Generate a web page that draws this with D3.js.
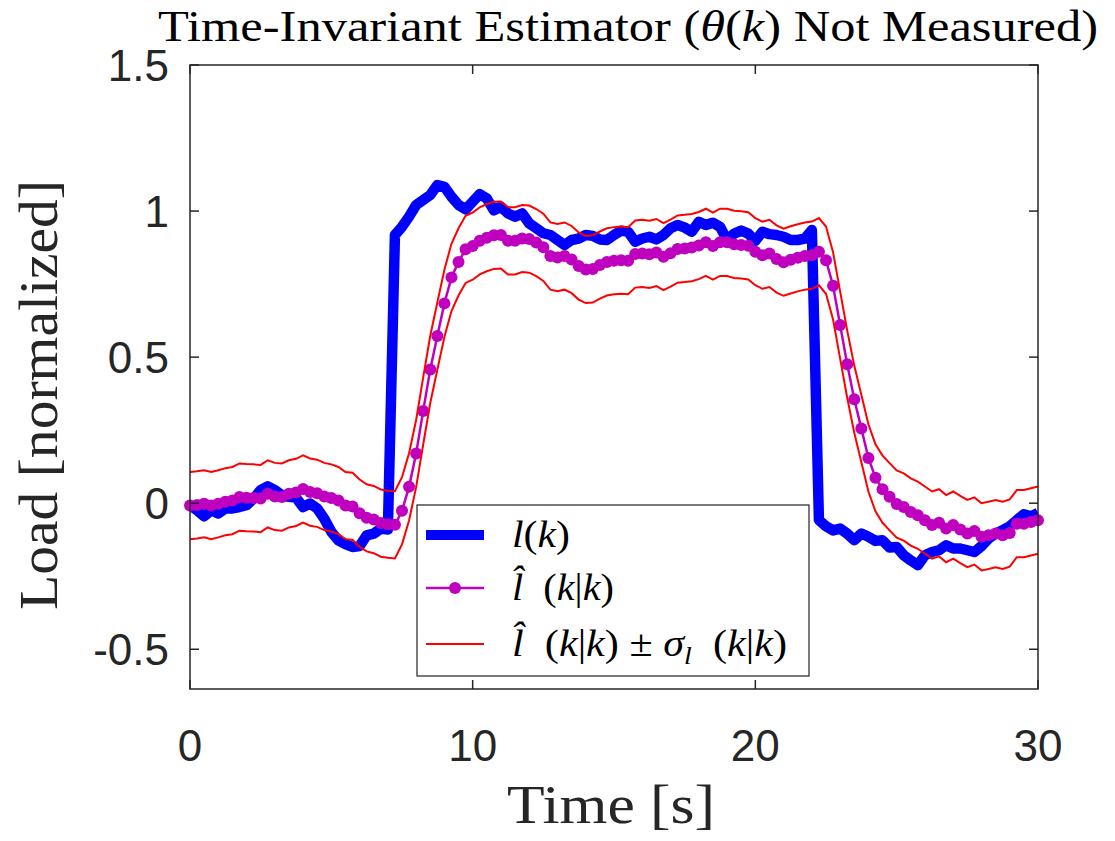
<!DOCTYPE html>
<html>
<head>
<meta charset="utf-8">
<script src="https://cdn.jsdelivr.net/npm/d3@7"></script>
<style>
  body { margin: 0; background: #fff; }
  svg { display: block; }
</style>
</head>
<body>
<svg id="chart" width="1115" height="841"></svg>
<script>
// sample grid: 0 .. 30 s every 0.25 s
const time = d3.range(0, 30.0001, 0.25);

// l(k) - true load
const loadTrue = [
  -0.007, -0.024, -0.045, -0.024,
  -0.035, -0.018, -0.018, -0.013,
  -0.007, 0.016, 0.045, 0.058,
  0.045, 0.027, 0.022, 0.019,
  -0.013, -0.001, -0.018, -0.053,
  -0.098, -0.127, -0.140, -0.150,
  -0.147, -0.110, -0.104, -0.087,
  -0.090, 0.918, 0.946, 0.981,
  1.021, 1.038, 1.055, 1.089,
  1.083, 1.049, 1.021, 1.006,
  1.032, 1.058, 1.043, 1.003,
  1.015, 0.992, 0.981, 0.992,
  0.958, 0.941, 0.924, 0.918,
  0.901, 0.884, 0.901, 0.906,
  0.918, 0.915, 0.903, 0.901,
  0.918, 0.933, 0.929, 0.895,
  0.906, 0.912, 0.903, 0.918,
  0.941, 0.952, 0.944, 0.929,
  0.963, 0.952, 0.960, 0.946,
  0.901, 0.923, 0.933, 0.923,
  0.898, 0.929, 0.921, 0.918,
  0.912, 0.901, 0.901, 0.906,
  0.935, -0.058, -0.079, -0.093,
  -0.087, -0.104, -0.127, -0.104,
  -0.115, -0.129, -0.127, -0.152,
  -0.150, -0.178, -0.196, -0.212,
  -0.178, -0.167, -0.161, -0.144,
  -0.155, -0.155, -0.161, -0.167,
  -0.147, -0.121, -0.104, -0.092,
  -0.079, -0.058, -0.038, -0.045,
  -0.033
];

// l^(k|k) - estimate
const loadEst = [
  -0.008, -0.006, -0.002, -0.008,
  -0.002, 0.005, 0.009, 0.021,
  0.019, 0.018, 0.016, 0.032,
  0.023, 0.021, 0.032, 0.037,
  0.049, 0.038, 0.034, 0.023,
  0.018, 0.009, -0.008, -0.011,
  -0.034, -0.050, -0.056, -0.068,
  -0.072, -0.074, -0.026, 0.056,
  0.170, 0.316, 0.458, 0.572,
  0.684, 0.773, 0.826, 0.869,
  0.880, 0.898, 0.909, 0.917,
  0.918, 0.898, 0.898, 0.906,
  0.904, 0.892, 0.876, 0.846,
  0.841, 0.846, 0.834, 0.812,
  0.800, 0.802, 0.815, 0.826,
  0.830, 0.832, 0.830, 0.853,
  0.855, 0.852, 0.858, 0.844,
  0.856, 0.870, 0.872, 0.875,
  0.882, 0.893, 0.880, 0.893,
  0.893, 0.886, 0.884, 0.881,
  0.861, 0.849, 0.855, 0.836,
  0.825, 0.833, 0.840, 0.846,
  0.849, 0.861, 0.832, 0.744,
  0.610, 0.476, 0.356, 0.256,
  0.155, 0.087, 0.048, 0.022,
  -0.003, -0.013, -0.030, -0.041,
  -0.058, -0.075, -0.067, -0.087,
  -0.075, -0.090, -0.104, -0.095,
  -0.115, -0.110, -0.104, -0.110,
  -0.102, -0.070, -0.070, -0.064,
  -0.058
];

// sigma_l(k|k), steady state
const sigmaL = 0.115;

const xTicks = [0, 10, 20, 30];
const yTicks = [-0.5, 0, 0.5, 1, 1.5];

const svg = d3.select("#chart");
const pLeft = 190, pRight = 1038, pTop = 65, pBottom = 689;

const x = d3.scaleLinear().domain([0, 30]).range([pLeft, pRight]);
const y = d3.scaleLinear().domain([-0.636, 1.5]).range([pBottom, pTop]);

const axisColor = "#262626";
const tickFont = "'Liberation Sans', Arial, sans-serif";
const texFont = "'Liberation Serif', 'Times New Roman', serif";

// data
const pts = (arr) => arr.map((v, i) => [time[i], v]);
const line = d3.line().x((d) => x(d[0])).y((d) => y(d[1]));

const plot = svg.append("g");

plot.append("path")
  .datum(pts(loadTrue))
  .attr("d", line)
  .attr("fill", "none")
  .attr("stroke", "#0000ff")
  .attr("stroke-width", 10.5)
  .attr("stroke-linejoin", "round");

plot.append("path")
  .datum(pts(loadEst))
  .attr("d", line)
  .attr("fill", "none")
  .attr("stroke", "#bf00bf")
  .attr("stroke-width", 2.5);

plot.selectAll("circle.est")
  .data(pts(loadEst))
  .enter()
  .append("circle")
  .attr("class", "est")
  .attr("cx", (d) => x(d[0]))
  .attr("cy", (d) => y(d[1]))
  .attr("r", 6)
  .attr("fill", "#bf00bf");

const upper = loadEst.map((v) => v + sigmaL);
const lower = loadEst.map((v) => v - sigmaL);
[upper, lower].forEach((arr) => {
  plot.append("path")
    .datum(pts(arr))
    .attr("d", line)
    .attr("fill", "none")
    .attr("stroke", "#ff0000")
    .attr("stroke-width", 2);
});

// box + ticks (inward, MATLAB style)
const axes = svg.append("g");
axes.append("rect")
  .attr("x", pLeft).attr("y", pTop)
  .attr("width", pRight - pLeft).attr("height", pBottom - pTop)
  .attr("fill", "none")
  .attr("stroke", axisColor)
  .attr("stroke-width", 1.5);

const tl = 9;
xTicks.forEach((t) => {
  axes.append("line").attr("x1", x(t)).attr("x2", x(t))
    .attr("y1", pBottom).attr("y2", pBottom - tl)
    .attr("stroke", axisColor).attr("stroke-width", 1.5);
  axes.append("line").attr("x1", x(t)).attr("x2", x(t))
    .attr("y1", pTop).attr("y2", pTop + tl)
    .attr("stroke", axisColor).attr("stroke-width", 1.5);
  axes.append("text")
    .attr("x", x(t)).attr("y", 761)
    .attr("text-anchor", "middle")
    .attr("font-family", tickFont)
    .attr("font-size", 44)
    .attr("fill", axisColor)
    .text(d3.format("d")(t));
});
yTicks.forEach((t) => {
  axes.append("line").attr("x1", pLeft).attr("x2", pLeft + tl)
    .attr("y1", y(t)).attr("y2", y(t))
    .attr("stroke", axisColor).attr("stroke-width", 1.5);
  axes.append("line").attr("x1", pRight).attr("x2", pRight - tl)
    .attr("y1", y(t)).attr("y2", y(t))
    .attr("stroke", axisColor).attr("stroke-width", 1.5);
  axes.append("text")
    .attr("x", 169).attr("y", y(t) + 16)
    .attr("text-anchor", "end")
    .attr("font-family", tickFont)
    .attr("font-size", 44)
    .attr("fill", axisColor)
    .text(t === 0 ? "0" : String(t));
});

// labels
svg.append("text")
  .attr("x", 611).attr("y", 823)
  .attr("text-anchor", "middle")
  .attr("font-family", texFont)
  .attr("font-size", 54)
  .attr("textLength", 208)
  .attr("lengthAdjust", "spacingAndGlyphs")
  .attr("fill", axisColor)
  .text("Time [s]");

svg.append("text")
  .attr("transform", "translate(57,395) rotate(-90)")
  .attr("text-anchor", "middle")
  .attr("font-family", texFont)
  .attr("font-size", 54)
  .attr("textLength", 430)
  .attr("lengthAdjust", "spacingAndGlyphs")
  .attr("fill", axisColor)
  .text("Load [normalized]");

const title = svg.append("text")
  .attr("x", 628).attr("y", 41)
  .attr("text-anchor", "middle")
  .attr("font-family", texFont)
  .attr("font-size", 44)
  .attr("textLength", 940)
  .attr("lengthAdjust", "spacingAndGlyphs")
  .attr("fill", "#000");
title.append("tspan").text("Time-Invariant Estimator (");
title.append("tspan").attr("font-style", "italic").text("θ");
title.append("tspan").text("(");
title.append("tspan").attr("font-style", "italic").text("k");
title.append("tspan").text(") Not Measured)");

// legend
const lg = svg.append("g");
lg.append("rect")
  .attr("x", 417).attr("y", 505)
  .attr("width", 392).attr("height", 171)
  .attr("fill", "#fff")
  .attr("stroke", "#222")
  .attr("stroke-width", 1.2);

const rows = [535, 588, 644];
lg.append("line").attr("x1", 426).attr("x2", 484)
  .attr("y1", rows[0]).attr("y2", rows[0])
  .attr("stroke", "#0000ff").attr("stroke-width", 10);
lg.append("line").attr("x1", 426).attr("x2", 484)
  .attr("y1", rows[1]).attr("y2", rows[1])
  .attr("stroke", "#bf00bf").attr("stroke-width", 2.5);
lg.append("circle").attr("cx", 455).attr("cy", rows[1]).attr("r", 6)
  .attr("fill", "#bf00bf");
lg.append("line").attr("x1", 426).attr("x2", 484)
  .attr("y1", rows[2]).attr("y2", rows[2])
  .attr("stroke", "#ff0000").attr("stroke-width", 2);

function texLabel(yy, width, parts) {
  const t = lg.append("text")
    .attr("x", 512).attr("y", yy + 12)
    .attr("font-family", texFont)
    .attr("font-size", 38)
    .attr("textLength", width)
    .attr("lengthAdjust", "spacingAndGlyphs")
    .attr("fill", "#000");
  parts.forEach((p) => {
    const s = t.append("tspan").text(p.s);
    if (p.i) s.attr("font-style", "italic");
    if (p.sub) s.attr("font-size", 25).attr("dy", 8);
    if (p.up) s.attr("dy", -8);
  });
  return t;
}

texLabel(rows[0], 58, [{ s: "l", i: 1 }, { s: "(" }, { s: "k", i: 1 }, { s: ")" }]);
texLabel(rows[1], 102, [{ s: "l\u0302", i: 1 }, { s: "\u2002(" }, { s: "k", i: 1 }, { s: "|" }, { s: "k", i: 1 }, { s: ")" }]);
texLabel(rows[2], 275, [
  { s: "l\u0302", i: 1 }, { s: "\u2002(" }, { s: "k", i: 1 }, { s: "|" }, { s: "k", i: 1 }, { s: ") ± " },
  { s: "σ", i: 1 }, { s: "l", i: 1, sub: 1 }, { s: "\u2002(", up: 1 }, { s: "k", i: 1 }, { s: "|" }, { s: "k", i: 1 }, { s: ")" }
]);
</script>
</body>
</html>
